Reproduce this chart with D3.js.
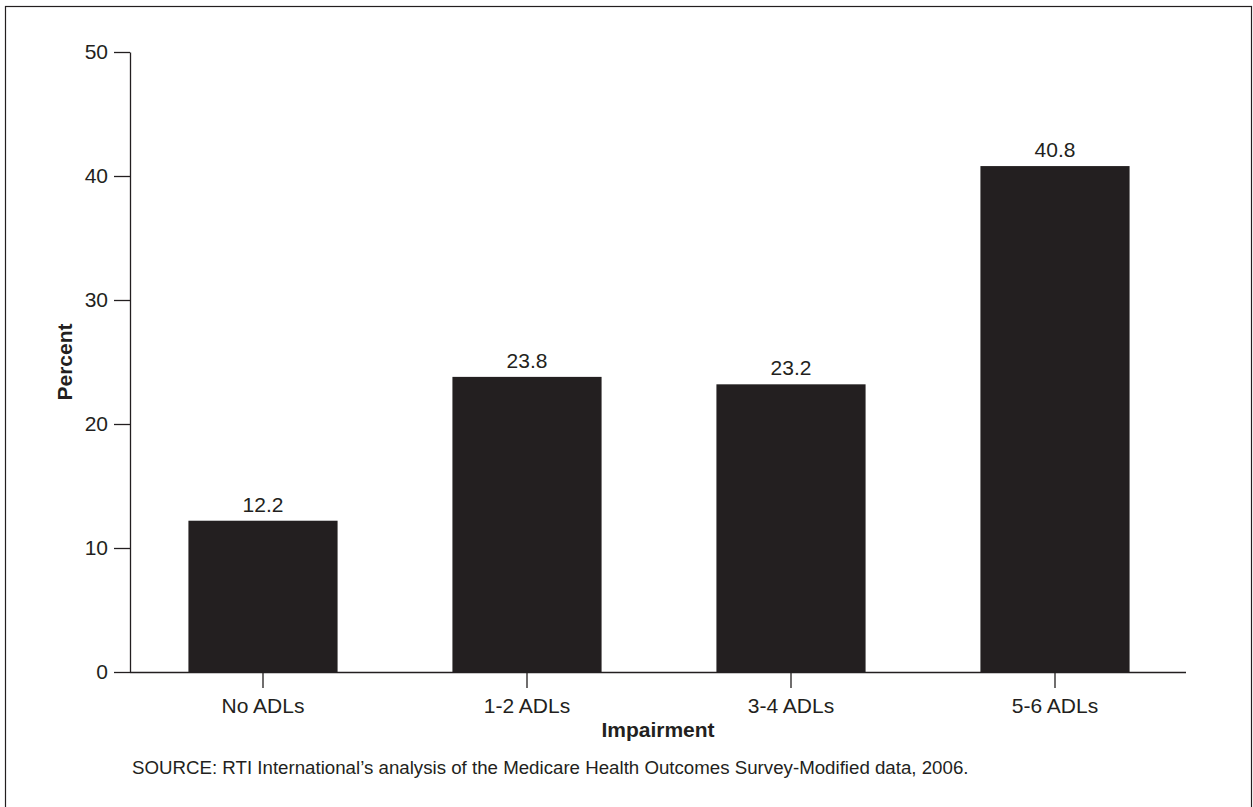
<!DOCTYPE html>
<html>
<head>
<meta charset="utf-8">
<script src="https://cdn.jsdelivr.net/npm/d3@7"></script>
<style>
html,body{margin:0;padding:0;background:#fff;}
svg{display:block;font-family:"Liberation Sans",Arial,Helvetica,sans-serif;}
</style>
</head>
<body>
<svg id="chart" width="1253" height="807"></svg>
<script>
const categories = ["No ADLs", "1-2 ADLs", "3-4 ADLs", "5-6 ADLs"];
const values = [12.2, 23.8, 23.2, 40.8];
const yTicks = [0, 10, 20, 30, 40, 50];
const xTitle = "Impairment";
const yTitle = "Percent";
const source = "SOURCE: RTI International\u2019s analysis of the Medicare Health Outcomes Survey-Modified data, 2006.";

const ink = "#231f20";
const svg = d3.select("#chart");

// frame
svg.append("rect").attr("x", 5.5).attr("y", 6.5).attr("width", 1246).attr("height", 820)
  .attr("fill", "none").attr("stroke", ink).attr("stroke-width", 1.2);

const y = d3.scaleLinear().domain([0, 50]).range([672, 52]);
const x = d3.scaleBand().domain(categories).range([131, 1187]).padding(0);
const barW = x.bandwidth() * 0.565;

// bars
svg.append("g").selectAll("rect").data(values).join("rect")
  .attr("x", (d, i) => x(categories[i]) + (x.bandwidth() - barW) / 2)
  .attr("y", d => y(d))
  .attr("width", barW)
  .attr("height", d => y(0) - y(d))
  .attr("fill", ink);

// value labels
svg.append("g").selectAll("text").data(values).join("text")
  .attr("x", (d, i) => x(categories[i]) + x.bandwidth() / 2)
  .attr("y", d => y(d) - 9)
  .attr("text-anchor", "middle")
  .attr("font-size", 21)
  .attr("fill", ink)
  .text(d => d.toFixed(1));

// y axis
const yAxis = svg.append("g").attr("transform", "translate(130,0)")
  .call(d3.axisLeft(y).tickValues(yTicks).tickSize(16).tickPadding(6).tickSizeOuter(0));
yAxis.selectAll("text").attr("font-size", 21).attr("fill", ink);
yAxis.selectAll("line,path").attr("stroke", ink).attr("stroke-width", 1.3);
yAxis.attr("font-family", null);

// x axis
const xAxis = svg.append("g").attr("transform", "translate(0,672)")
  .call(d3.axisBottom(x).tickSize(16).tickPadding(10).tickSizeOuter(0));
xAxis.select("path.domain").attr("d", "M130,0.5H1186");
xAxis.selectAll("text").attr("font-size", 21).attr("fill", ink);
xAxis.selectAll("line,path").attr("stroke", ink).attr("stroke-width", 1.3);
xAxis.attr("font-family", null);

// titles
svg.append("text").attr("x", 658).attr("y", 737).attr("text-anchor", "middle")
  .attr("font-size", 21).attr("font-weight", "bold").attr("fill", ink).text(xTitle);
svg.append("text").attr("transform", "translate(72,362) rotate(-90)").attr("text-anchor", "middle")
  .attr("font-size", 21).attr("font-weight", "bold").attr("fill", ink).text(yTitle);

// source
svg.append("text").attr("x", 132).attr("y", 774).attr("font-size", 18.7).attr("fill", ink).text(source);
</script>
</body>
</html>
